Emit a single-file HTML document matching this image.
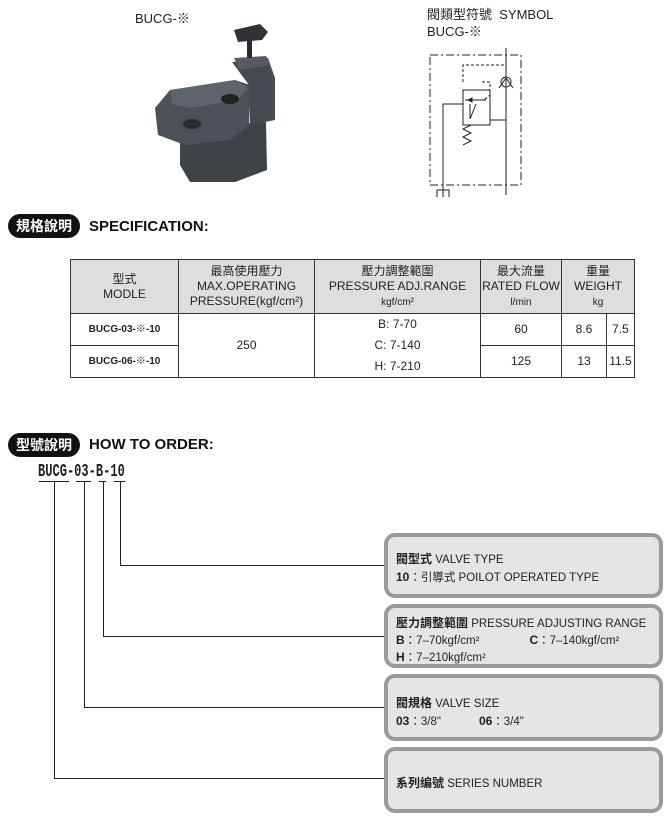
<!DOCTYPE html>
<html><head><meta charset="utf-8"><style>
*{margin:0;padding:0;box-sizing:border-box}
body{width:669px;height:816px;background:#fff;position:relative;overflow:hidden;font-family:"Liberation Sans","Noto Sans CJK TC",sans-serif;color:#222}
.a{position:absolute;white-space:nowrap}
.pill{position:absolute;background:#111;color:#fff;border-radius:12px;font-weight:bold;font-size:14px;padding:2px 8px;height:24px;line-height:20px}
.h{position:absolute;font-weight:bold;font-size:15px;color:#111}
table{position:absolute;left:70px;top:259px;border-collapse:collapse;font-size:12px}
td{border:1px solid #333;text-align:center;line-height:15px}
.hd td{background:#dedede;height:54px}
.box{position:absolute;left:384px;width:279px;border:4px solid #9a9a9a;border-radius:11px;background:#e5e5e5;font-size:11.5px;padding-left:8px;color:#222}
.box b{font-size:12px}
</style></head><body>
<div class="a" style="left:135px;top:8px;font-size:13px">BUCG-※</div>
<div class="a" style="left:427px;top:4px;font-size:13px">閥類型符號 &nbsp;SYMBOL</div>
<div class="a" style="left:427px;top:21px;font-size:13px">BUCG-※</div>

<svg class="a" style="left:0;top:0" width="669" height="240">
 <!-- valve photo approximation -->
 <polygon points="180,128 266,122 267,170 235,182 190,182 180,165" fill="#3e4348"/>
 <polygon points="155,108 170,90 235,80 250,85 249,125 230,140 185,145 158,135" fill="#4c5258"/>
 <polygon points="170,90 235,80 248,88 238,100 190,108 172,104" fill="#5e646b"/>
 <polygon points="232,62 268,58 275,78 275,120 250,125 249,85" fill="#464b51"/>
 <polygon points="234,58 266,56 270,65 240,70" fill="#555b61"/>
 <rect x="247" y="40" width="5" height="18" fill="#2a2a2a"/>
 <polygon points="234,30 260,24 268,32 262,40 238,42" fill="#2f3236"/>
 <ellipse cx="230" cy="99" rx="9" ry="5" fill="#222"/>
 <ellipse cx="192" cy="124" rx="9" ry="5" fill="#2a2a2a"/>
 <!-- symbol -->
 <g stroke="#222" fill="none" stroke-width="1">
  <path d="M430,55 H521 V185 H430 Z" stroke-dasharray="8,3,2,3"/>
  <path d="M506,48 V195"/>
  <path d="M463,90 H490 V125 H463 Z" fill="#fff"/>
  <path d="M490,120 H506"/>
  <path d="M470,119 V104 M470,119 L476,104"/>
  <path d="M443,190 V104 H463"/>
  <path d="M437,197 V190 H449 V197 M443,190 V197"/>
  <path d="M465,100 H486" /><path d="M468,100 l4,-2 v4z" fill="#222"/>
  <path d="M463,145 l8,-4 -8,-4 8,-4 -8,-4 8,-4" />
  <path d="M463,82 V65 H506" stroke-dasharray="3,2"/>
  <path d="M482,82 H490 V95 L484,100" stroke-dasharray="3,2"/>
  <circle cx="506" cy="82" r="5"/>
  <path d="M499,88 L506,78 L513,88" />
 </g>
</svg>

<div class="pill" style="left:8px;top:214px">規格說明</div>
<div class="h" style="left:89px;top:218px">SPECIFICATION:</div>

<table>
<tr class="hd"><td style="width:108px">型式<br>MODLE</td><td style="width:136px">最高使用壓力<br>MAX.OPERATING<br>PRESSURE(kgf/cm²)</td><td style="width:166px">壓力調整範圍<br>PRESSURE ADJ.RANGE<br><span style="font-size:10px">kgf/cm²</span></td><td style="width:81px">最大流量<br>RATED FLOW<br><span style="font-size:10px">l/min</span></td><td colspan="2" style="width:73px">重量<br>WEIGHT<br><span style="font-size:10px">kg</span></td></tr>
<tr style="height:31px"><td style="font-weight:bold;font-size:10px">BUCG-03-※-10</td><td rowspan="2">250</td><td rowspan="2" style="line-height:21px">B: 7-70<br>C: 7-140<br>H: 7-210</td><td>60</td><td style="width:45px">8.6</td><td>7.5</td></tr>
<tr style="height:31px"><td style="font-weight:bold;font-size:10px">BUCG-06-※-10</td><td>125</td><td>13</td><td>11.5</td></tr>
</table>

<div class="pill" style="left:8px;top:433px">型號說明</div>
<div class="h" style="left:89px;top:436px">HOW TO ORDER:</div>
<div class="a" style="left:38px;top:462px;font-family:'Liberation Mono',monospace;font-weight:bold;font-size:18px;transform:scaleX(0.67);transform-origin:left">BUCG-03-B-10</div>

<svg class="a" style="left:0;top:0" width="669" height="816">
 <g stroke="#222" stroke-width="1" fill="none">
  <path d="M39,481.5 H69 M76,481.5 H91 M99,481.5 H106 M114,481.5 H125"/>
  <path d="M120.5,481 V565.5 H384"/>
  <path d="M103.5,481 V636.5 H384"/>
  <path d="M84.5,481 V707.5 H384"/>
  <path d="M54.5,481 V778.5 H384"/>
 </g>
</svg>

<div class="box" style="top:533px;height:65px;padding-top:14px;line-height:17px"><b>閥型式</b> VALVE TYPE<br><b>10</b>：引導式 POILOT OPERATED TYPE</div>
<div class="box" style="top:604px;height:64px;padding-top:7px;line-height:16px"><b>壓力調整範圍</b> PRESSURE ADJUSTING RANGE<br><b>B</b>：7–70kgf/cm²<span style="display:inline-block;width:50px"></span><b>C</b>：7–140kgf/cm²<br><b>H</b>：7–210kgf/cm²</div>
<div class="box" style="top:674px;height:67px;padding-top:17px;line-height:17px"><b>閥規格</b> VALVE SIZE<br><b>03</b>：3/8"<span style="display:inline-block;width:38px"></span><b>06</b>：3/4"</div>
<div class="box" style="top:747px;height:66px;padding-top:24px;line-height:17px"><b>系列编號</b> SERIES NUMBER</div>
</body></html>
